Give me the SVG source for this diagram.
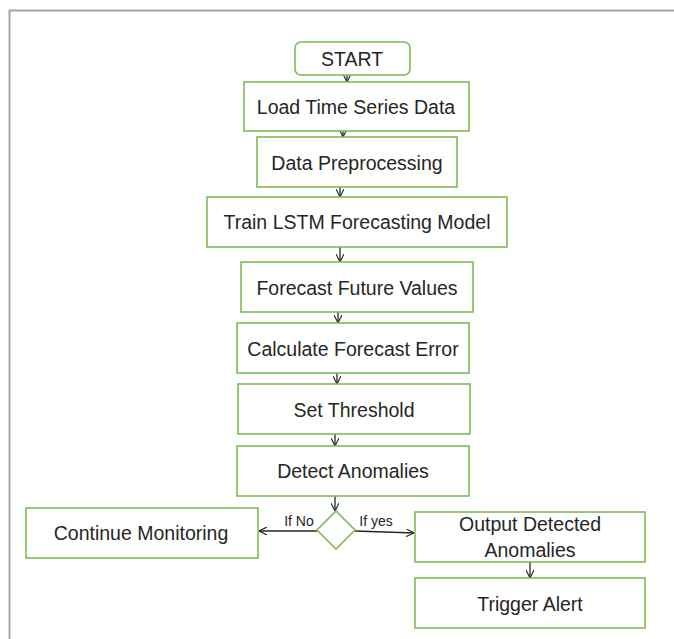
<svg xmlns="http://www.w3.org/2000/svg" width="674" height="639" viewBox="0 0 674 639">
<style>
.box{fill:#fff;stroke:#7cbb56;stroke-width:1.6}
.t{font-family:"Liberation Sans","Open Sans",sans-serif;font-size:19.5px;fill:#262626;text-anchor:middle;dominant-baseline:central}
.s{font-family:"Liberation Sans","Open Sans",sans-serif;font-size:14px;fill:#262626;text-anchor:middle}
.c{stroke:#262626;stroke-width:1.3;fill:none}
</style>
<defs>
<marker id="a" viewBox="0 0 10 10" refX="10" refY="5" markerWidth="8" markerHeight="8" markerUnits="userSpaceOnUse" orient="auto">
<path d="M0,0 L10,5 L0,10" fill="none" stroke="#262626" stroke-width="1.4"/>
</marker>
</defs>
<rect x="0" y="0" width="674" height="639" fill="#fff"/>
<path d="M9.5,639 V10.5 H674" fill="none" stroke="#a6a6a6" stroke-width="2"/>
<g id="connectors">
<line class="c" x1="347" y1="75" x2="347" y2="82" marker-end="url(#a)"/>
<line class="c" x1="343" y1="131" x2="343" y2="137" marker-end="url(#a)"/>
<line class="c" x1="340" y1="187" x2="340" y2="197" marker-end="url(#a)"/>
<line class="c" x1="340" y1="247" x2="340" y2="262" marker-end="url(#a)"/>
<line class="c" x1="338" y1="312" x2="338" y2="323" marker-end="url(#a)"/>
<line class="c" x1="337" y1="373" x2="337" y2="384" marker-end="url(#a)"/>
<line class="c" x1="335" y1="434" x2="335" y2="446" marker-end="url(#a)"/>
<line class="c" x1="335" y1="496" x2="335" y2="511" marker-end="url(#a)"/>
<line class="c" x1="317" y1="531" x2="259" y2="531" marker-end="url(#a)"/>
<line class="c" x1="355" y1="531" x2="414" y2="533" marker-end="url(#a)"/>
<line class="c" x1="530" y1="562" x2="530" y2="578" marker-end="url(#a)"/>
<text class="s" x="299" y="526">If No</text>
<text class="s" x="376" y="526">If yes</text>
</g>
<g id="start"><rect class="box" x="295" y="42" width="115" height="33" rx="6"/><text class="t" x="352" y="59">START</text></g>
<g id="load"><rect class="box" x="244" y="82" width="225" height="49"/><text class="t" x="356" y="107">Load Time Series Data</text></g>
<g id="prep"><rect class="box" x="257" y="137" width="200" height="50"/><text class="t" x="357" y="163">Data Preprocessing</text></g>
<g id="train"><rect class="box" x="207" y="197" width="300" height="50"/><text class="t" x="357" y="222">Train LSTM Forecasting Model</text></g>
<g id="forecast"><rect class="box" x="241" y="262" width="232" height="50"/><text class="t" x="357" y="288">Forecast Future Values</text></g>
<g id="calc"><rect class="box" x="237" y="323" width="232" height="50"/><text class="t" x="353" y="349">Calculate Forecast Error</text></g>
<g id="threshold"><rect class="box" x="238" y="384" width="232" height="50"/><text class="t" x="354" y="410">Set Threshold</text></g>
<g id="detect"><rect class="box" x="237" y="446" width="232" height="50"/><text class="t" x="353" y="471">Detect Anomalies</text></g>
<g id="decision"><path class="box" d="M336,511 L355,530 L336,549 L317,530 Z"/></g>
<g id="continue"><rect class="box" x="26" y="508" width="232" height="50"/><text class="t" x="141" y="533">Continue Monitoring</text></g>
<g id="output"><rect class="box" x="415" y="512" width="230" height="50"/><text class="t" x="530" y="524">Output Detected</text><text class="t" x="530" y="550">Anomalies</text></g>
<g id="alert"><rect class="box" x="415" y="578" width="230" height="50"/><text class="t" x="530" y="604">Trigger Alert</text></g>
</svg>
